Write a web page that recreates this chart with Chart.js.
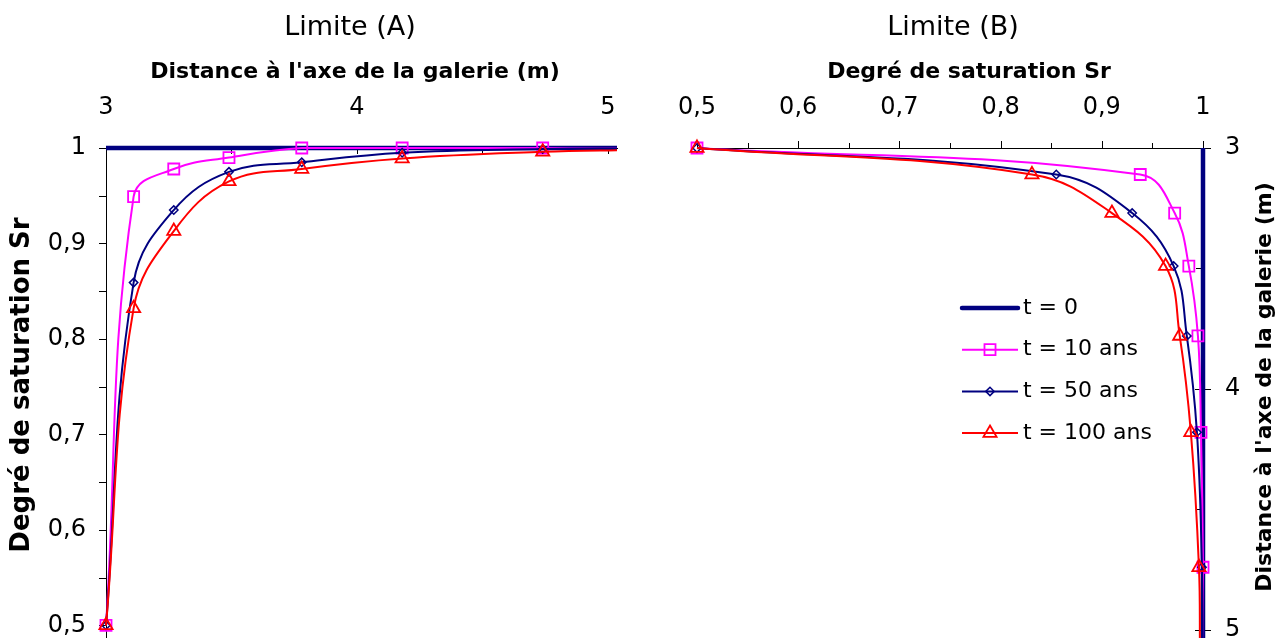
<!DOCTYPE html>
<html><head><meta charset="utf-8">
<script src="https://cdn.jsdelivr.net/npm/chart.js@4.4.1/dist/chart.umd.min.js"></script>
<style>
html,body{margin:0;padding:0;background:#fff;}
#wrap{position:relative;width:1286px;height:638px;overflow:hidden;background:#fff;}
canvas{position:absolute;top:0;}
#cA{left:0;}
#cB{left:650px;}
</style></head><body>
<div id="wrap"><canvas id="cA" width="650" height="654"></canvas><canvas id="cB" width="636" height="654"></canvas></div>
<script>
// ---------- data ----------
const seriesLabels = ['t = 0', 't = 10 ans', 't = 50 ans', 't = 100 ans'];
const panelTitles = ['Limite (A)', 'Limite (B)'];
const distTitle = "Distance à l'axe de la galerie (m)";
const srTitle = 'Degré de saturation Sr';

// distance to gallery axis (m) at which Sr is given
const distance = [3, 3.11, 3.27, 3.49, 3.78, 4.18, 4.74, 5.1];
// t = 0 : fully saturated
const t0Distance = [3, 5.1];
const t0Sr = [1, 1];

// Limite (A)
const srA_t10  = [0.5, 0.949, 0.978, 0.990, 1.000, 1.000, 1.000, 1.000];
const srA_t50  = [0.5, 0.859, 0.935, 0.975, 0.985, 0.995, 0.999, 1.000];
const srA_t100 = [0.5, 0.832, 0.913, 0.965, 0.978, 0.989, 0.996, 0.998];

// Limite (B)
const srB_t10  = [0.5, 0.938, 0.972, 0.986, 0.995, 0.998, 1.000, 1.000];
const srB_t50  = [0.5, 0.855, 0.930, 0.971, 0.984, 0.994, 0.999, 1.000];
const srB_t100 = [0.5, 0.831, 0.910, 0.963, 0.977, 0.988, 0.996, 0.997];

// ticks
const distTickLabels = [3, 4, 5];
const distTickMarks = [3, 3.5, 4, 4.5, 5];
const srTickLabels = [0.5, 0.6, 0.7, 0.8, 0.9, 1];
const srTickMarks = [0.5, 0.55, 0.6, 0.65, 0.7, 0.75, 0.8, 0.85, 0.9, 0.95, 1];

// ---------- styling ----------
Chart.defaults.font.family = '"DejaVu Sans", "Liberation Sans", Arial, sans-serif';
Chart.defaults.color = '#000';
const NAVY = '#000080', MAG = '#FF00FF', RED = '#FF0000';
const FONT = '"DejaVu Sans", "Liberation Sans", Arial, sans-serif';
const styles = [
  {color: NAVY, width: 4.5, shape: null, r: 0, bw: 0},
  {color: MAG, width: 2, shape: 'rect', r: 7.8, bw: 1.8},
  {color: NAVY, width: 2, shape: 'rectRot', r: 4.2, bw: 1.5},
  {color: RED, width: 2, shape: 'triangle', r: 7.6, bw: 1.8}
];
const fmt = v => String(v).replace('.', ',');
const has = (arr, v) => arr.some(a => Math.abs(a - v) < 1e-9);

function pts(xs, ys) { return xs.map((x, i) => ({x: x, y: ys[i]})); }

function makeDataset(i, data, clip) {
  const s = styles[i];
  return {
    label: seriesLabels[i],
    data: data,
    borderColor: s.color,
    borderWidth: s.width,
    backgroundColor: s.color,
    pointStyle: s.shape || 'circle',
    pointRadius: s.shape ? s.r : 0,
    pointHoverRadius: s.shape ? s.r : 0,
    pointBorderWidth: s.bw,
    pointBorderColor: s.color,
    pointBackgroundColor: 'rgba(0,0,0,0)',
    tension: i === 0 ? 0 : 0.4,
    fill: false,
    clip: clip,
    order: 3 - i
  };
}

function tickPlugin(specs) {
  return {
    id: 'tickMarks',
    beforeDatasetsDraw(chart) {
      const ctx = chart.ctx;
      ctx.save();
      ctx.strokeStyle = '#000';
      ctx.lineWidth = 1;
      specs.forEach(sp => {
        const sc = chart.scales[sp.axis];
        sp.marks.forEach(v => {
          const major = has(sp.labeled, v);
          const out = major ? sp.majorOut : sp.minorOut;
          const inn = major ? sp.majorIn : sp.minorIn;
          const p = Math.round(sc.getPixelForValue(v)) + 0.5;
          ctx.beginPath();
          if (sp.side === 'top') {
            const b = Math.round(sc.bottom);
            ctx.moveTo(p, b - out); ctx.lineTo(p, b + inn);
          } else if (sp.side === 'left') {
            const b = Math.round(sc.right);
            ctx.moveTo(b - out, p); ctx.lineTo(b + inn, p);
          } else {
            const b = Math.round(sc.left);
            ctx.moveTo(b + out, p); ctx.lineTo(b - inn, p);
          }
          ctx.stroke();
        });
      });
      ctx.restore();
    }
  };
}

function textPlugin(items) {
  return {
    id: 'texts',
    afterDraw(chart) {
      const ctx = chart.ctx;
      items.forEach(t => {
        ctx.save();
        ctx.fillStyle = '#000';
        ctx.translate(t.x, t.y);
        if (t.rot) ctx.rotate(t.rot);
        ctx.font = t.font;
        ctx.textAlign = 'center';
        ctx.textBaseline = 'middle';
        ctx.fillText(t.text, 0, 0);
        ctx.restore();
      });
    }
  };
}

function drawMarker(ctx, shape, x, y, r) {
  ctx.beginPath();
  if (shape === 'rect') {
    const h = Math.SQRT1_2 * r;
    ctx.rect(x - h, y - h, 2 * h, 2 * h);
  } else if (shape === 'rectRot') {
    ctx.moveTo(x - r, y); ctx.lineTo(x, y - r); ctx.lineTo(x + r, y); ctx.lineTo(x, y + r); ctx.closePath();
  } else if (shape === 'triangle') {
    for (let k = 0; k < 3; k++) {
      const a = k * 2 * Math.PI / 3;
      const px = x + Math.sin(a) * r, py = y - Math.cos(a) * r;
      if (k === 0) ctx.moveTo(px, py); else ctx.lineTo(px, py);
    }
    ctx.closePath();
  }
  ctx.stroke();
}

const legendPlugin = {
  id: 'customLegend',
  afterDraw(chart) {
    const ctx = chart.ctx;
    const x0 = 312, x1 = 368, top = 308, gap = 41.7;
    seriesLabels.forEach((lab, i) => {
      const s = styles[i];
      const y = top + i * gap;
      ctx.save();
      ctx.strokeStyle = s.color;
      ctx.lineWidth = s.width;
      ctx.lineCap = i === 0 ? 'round' : 'butt';
      ctx.beginPath(); ctx.moveTo(x0, y); ctx.lineTo(x1, y); ctx.stroke();
      if (s.shape) {
        ctx.lineWidth = s.bw;
        drawMarker(ctx, s.shape, (x0 + x1) / 2, y, s.r);
      }
      ctx.fillStyle = '#000';
      ctx.font = '22px ' + FONT;
      ctx.textAlign = 'left';
      ctx.textBaseline = 'middle';
      ctx.fillText(lab, 373, y);
      ctx.restore();
    });
  }
};

function noPad(s) { s.paddingTop = 0; s.paddingBottom = 0; s.paddingLeft = 0; s.paddingRight = 0; }

// ---------- Chart A : Limite (A) ----------
const clipA = {left: 10, top: 10, right: 0, bottom: 0};
new Chart(document.getElementById('cA'), {
  type: 'line',
  data: {
    datasets: [
      makeDataset(0, pts(t0Distance, t0Sr), clipA),
      makeDataset(1, pts(distance, srA_t10), clipA),
      makeDataset(2, pts(distance, srA_t50), clipA),
      makeDataset(3, pts(distance, srA_t100), clipA)
    ]
  },
  options: {
    responsive: false,
    animation: false,
    devicePixelRatio: 1,
    layout: {padding: {left: 0, right: 33, top: 0, bottom: 0}, autoPadding: false},
    plugins: {legend: {display: false}, tooltip: {enabled: false}, title: {display: false}},
    scales: {
      x: {
        type: 'linear', position: 'top', min: 3, max: 5.036,
        grid: {display: false, drawTicks: false},
        border: {display: true, color: '#000', width: 1},
        ticks: {autoSkip: false, maxRotation: 0, minRotation: 0, padding: 26, font: {size: 24}, callback: v => fmt(v)},
        afterBuildTicks: a => { a.ticks = distTickLabels.map(v => ({value: v})); },
        afterFit: s => { s.height = 148; noPad(s); }
      },
      y: {
        type: 'linear', position: 'left', min: 0.47, max: 1,
        grid: {display: false, drawTicks: false},
        border: {display: true, color: '#000', width: 1},
        ticks: {autoSkip: false, padding: 20, font: {size: 24}, callback: v => fmt(v)},
        afterBuildTicks: a => { a.ticks = srTickLabels.map(v => ({value: v})); },
        afterFit: s => { s.width = 106; noPad(s); }
      }
    }
  },
  plugins: [
    tickPlugin([
      {axis: 'x', side: 'top', marks: distTickMarks, labeled: distTickLabels, majorOut: 0, majorIn: 6, minorOut: 0, minorIn: 6},
      {axis: 'y', side: 'left', marks: srTickMarks, labeled: srTickLabels, majorOut: 7, majorIn: 0, minorOut: 7, minorIn: 0}
    ]),
    textPlugin([
      {text: panelTitles[0], x: 350, y: 28, font: 'normal 27px ' + FONT},
      {text: distTitle, x: 355, y: 72, font: 'bold 22px ' + FONT},
      {text: srTitle, x: 22, y: 385, rot: -Math.PI / 2, font: 'bold 26px ' + FONT}
    ])
  ]
});

// ---------- Chart B : Limite (B) ----------
const clipB = {left: 10, top: 10, right: 10, bottom: 0};
new Chart(document.getElementById('cB'), {
  type: 'line',
  data: {
    datasets: [
      makeDataset(0, pts(t0Sr, t0Distance), clipB),
      makeDataset(1, pts(srB_t10, distance), clipB),
      makeDataset(2, pts(srB_t50, distance), clipB),
      makeDataset(3, pts(srB_t100, distance), clipB)
    ]
  },
  options: {
    responsive: false,
    animation: false,
    devicePixelRatio: 1,
    indexAxis: 'y',
    layout: {padding: {left: 47, right: 0, top: 0, bottom: 0}, autoPadding: false},
    plugins: {legend: {display: false}, tooltip: {enabled: false}, title: {display: false}},
    scales: {
      x: {
        type: 'linear', position: 'top', min: 0.5, max: 1,
        grid: {display: false, drawTicks: false},
        border: {display: true, color: '#000', width: 1},
        ticks: {autoSkip: false, maxRotation: 0, minRotation: 0, padding: 26, font: {size: 24}, callback: v => fmt(v)},
        afterBuildTicks: a => { a.ticks = srTickLabels.map(v => ({value: v})); },
        afterFit: s => { s.height = 148; noPad(s); }
      },
      y: {
        type: 'linear', position: 'right', min: 3, max: 5.1, reverse: true,
        grid: {display: false, drawTicks: false},
        border: {display: true, color: '#000', width: 1},
        ticks: {autoSkip: false, padding: 22, font: {size: 24}, callback: v => fmt(v)},
        afterBuildTicks: a => { a.ticks = distTickLabels.map(v => ({value: v})); },
        afterFit: s => { s.width = 83; noPad(s); }
      }
    }
  },
  plugins: [
    tickPlugin([
      {axis: 'x', side: 'top', marks: srTickMarks, labeled: srTickLabels, majorOut: 7, majorIn: 0, minorOut: 5, minorIn: 0},
      {axis: 'y', side: 'right', marks: distTickMarks, labeled: distTickLabels, majorOut: 8, majorIn: 8, minorOut: 0, minorIn: 7}
    ]),
    textPlugin([
      {text: panelTitles[1], x: 303, y: 28, font: 'normal 27px ' + FONT},
      {text: srTitle, x: 319, y: 72, font: 'bold 22px ' + FONT},
      {text: distTitle, x: 615, y: 387, rot: -Math.PI / 2, font: 'bold 22px ' + FONT}
    ]),
    legendPlugin
  ]
});
</script>
</body></html>
